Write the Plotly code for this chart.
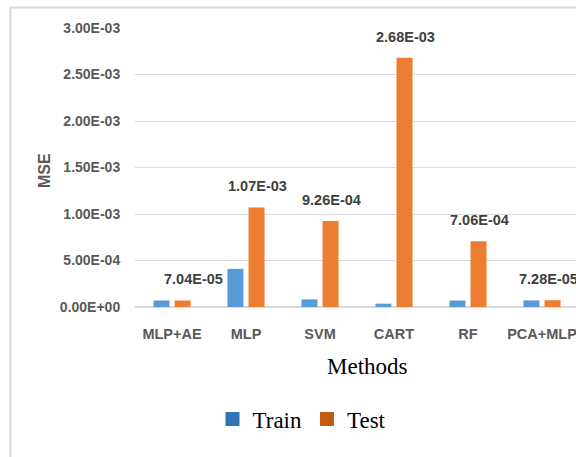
import plotly.graph_objects as go

methods = ["MLP+AE", "MLP", "SVM", "CART", "RF", "PCA+MLP"]
train_mse = [7.0e-05, 4.1e-04, 8.2e-05, 3.6e-05, 7.0e-05, 7.1e-05]
test_mse = [7.04e-05, 1.07e-03, 9.26e-04, 2.68e-03, 7.06e-04, 7.28e-05]
y_tickvals = [0, 5e-4, 1e-3, 1.5e-3, 2e-3, 2.5e-3, 3e-3]
y_ticktext = ["0.00E+00", "5.00E-04", "1.00E-03", "1.50E-03", "2.00E-03", "2.50E-03", "3.00E-03"]

# label nudges (pixels), style only
label_dx = [21, 11, 11, 11, 11, 6]

W, H = 579, 457
L, R, T, B = 135, 0, 28, 150
pw, ph = W - L - R, H - T - B

def px(x):
    return (x - L) / pw

def py(y):
    return (H - B - y) / ph

CAL = "Liberation Sans Narrow, Arial Narrow, Liberation Sans, Arial"
SERIF = "Liberation Serif, Times New Roman, serif"

fig = go.Figure()
fig.add_trace(go.Bar(x=methods, y=train_mse, name="Train", marker_color="#5B9BD5",
                     marker_line_width=0, showlegend=False))
fig.add_trace(go.Bar(x=methods, y=test_mse, name="Test", marker_color="#ED7D31",
                     marker_line_width=0, showlegend=False))
# legend entries
fig.add_trace(go.Scatter(x=[methods[0]], y=[None], mode="markers", name="Train",
                         marker=dict(symbol="square", size=14, color="#2E75B6")))
fig.add_trace(go.Scatter(x=[methods[0]], y=[None], mode="markers", name="Test",
                         marker=dict(symbol="square", size=14, color="#C55A11")))

for m, v, dx in zip(methods, test_mse, label_dx):
    fig.add_annotation(x=m, y=v, xref="x", yref="y", text="{:.2E}".format(v),
                       showarrow=False, yanchor="bottom", xshift=dx, yshift=11,
                       font=dict(family=CAL, size=14.5, color="#404040", weight="bold"))

fig.add_annotation(x=px(367), y=py(366), xref="paper", yref="paper", text="Methods",
                   showarrow=False, xanchor="center", yanchor="middle",
                   font=dict(family=SERIF, size=23, color="black"))

fig.add_annotation(x=px(44), y=py(171), xref="paper", yref="paper", text="MSE",
                   showarrow=False, xanchor="center", yanchor="middle", textangle=-90,
                   font=dict(family=CAL, size=16, color="#595959", weight="bold"))

# outer chart frame
fig.add_shape(type="rect", xref="paper", yref="paper",
              x0=px(10.5), x1=px(W + 20), y0=py(H + 20), y1=py(7.5),
              line=dict(color="#D9D9D9", width=2), layer="below")

fig.update_layout(
    width=W, height=H, autosize=False,
    margin=dict(l=L, r=R, t=T, b=B, pad=0, autoexpand=False),
    paper_bgcolor="white", plot_bgcolor="white",
    barmode="group", bargap=0.43, bargroupgap=0.24,
    showlegend=True,
    legend=dict(orientation="h", x=px(302), y=py(419), xanchor="center", yanchor="middle",
                font=dict(family=SERIF, size=23, color="black"),
                itemsizing="trace", tracegroupgap=0, bgcolor="rgba(0,0,0,0)"),
    xaxis=dict(range=[-0.5, len(methods) - 0.5], autorange=False,
               showgrid=False, showline=False, zeroline=False, automargin=False,
               ticks="outside", ticklen=14, tickcolor="rgba(0,0,0,0)",
               tickfont=dict(family=CAL, size=14.5, color="#595959", weight="bold")),
    yaxis=dict(range=[0, 3e-3], tickvals=y_tickvals, ticktext=y_ticktext, automargin=False,
               showgrid=True, gridcolor="#D9D9D9", gridwidth=1,
               zeroline=True, zerolinecolor="#D9D9D9", zerolinewidth=2,
               showline=False, ticks="outside", ticklen=11, tickcolor="rgba(0,0,0,0)",
               tickfont=dict(family=CAL, size=14, color="#595959", weight="bold")),
)

post = ("document.documentElement.style.overflow='hidden';"
        "document.body.style.margin='0';document.body.style.overflow='hidden';")
fig.write_html("out.html", config={"displayModeBar": False, "responsive": False},
               post_script=post)
